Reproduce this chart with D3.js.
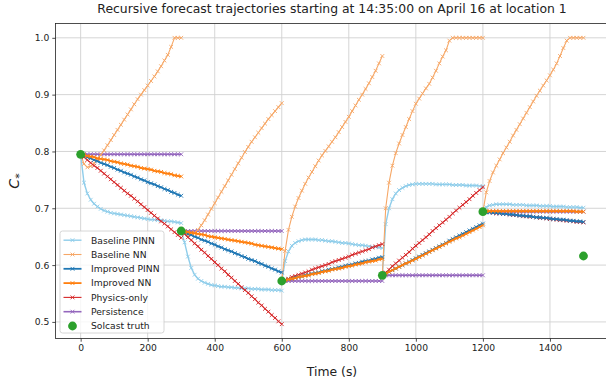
<!DOCTYPE html>
<html>
<head>
<meta charset="utf-8">
<script src="https://cdn.jsdelivr.net/npm/d3@7"></script>
<style>
  html, body { margin: 0; padding: 0; background: #fff; }
  svg { display: block; font-family: "DejaVu Sans", sans-serif; }
</style>
</head>
<body>
<div id="chart"></div>
<script>
"use strict";

// forecast start times (s) and the step offsets inside each trajectory
var segStarts = [0, 300, 600, 900, 1200];
var offsets = [0, 10, 20, 30, 40, 50, 60, 70, 80, 90, 100, 110, 120, 130, 140, 150,
  160, 170, 180, 190, 200, 210, 220, 230, 240, 250, 260, 270, 280, 290, 300];

var truthTimes = [0, 300, 600, 900, 1200, 1500];
var truthValues = [0.795, 0.660, 0.572, 0.582, 0.694, 0.616];

var baselinePinn = [
  [0.795, 0.745, 0.726, 0.715, 0.708, 0.703, 0.699, 0.696, 0.694, 0.692, 0.691, 0.690, 0.689, 0.688, 0.687, 0.686,
   0.685, 0.684, 0.683, 0.682, 0.681, 0.680, 0.680, 0.679, 0.679, 0.678, 0.677, 0.677, 0.676, 0.675, 0.674],
  [0.660, 0.640, 0.615, 0.595, 0.583, 0.576, 0.572, 0.569, 0.567, 0.565, 0.564, 0.563, 0.562, 0.562, 0.561, 0.561,
   0.560, 0.560, 0.559, 0.559, 0.559, 0.558, 0.558, 0.558, 0.557, 0.557, 0.557, 0.556, 0.556, 0.556, 0.555],
  [0.572, 0.607, 0.624, 0.634, 0.639, 0.642, 0.644, 0.645, 0.645, 0.645, 0.645, 0.644, 0.644, 0.643, 0.642, 0.642,
   0.641, 0.640, 0.639, 0.639, 0.638, 0.637, 0.636, 0.635, 0.635, 0.634, 0.633, 0.632, 0.632, 0.631, 0.630],
  [0.582, 0.672, 0.700, 0.716, 0.726, 0.732, 0.736, 0.739, 0.741, 0.742, 0.743, 0.743, 0.743, 0.743, 0.743, 0.743,
   0.742, 0.742, 0.742, 0.742, 0.742, 0.741, 0.741, 0.741, 0.741, 0.740, 0.740, 0.740, 0.740, 0.739, 0.739],
  [0.694, 0.702, 0.705, 0.706, 0.707, 0.707, 0.707, 0.707, 0.707, 0.706, 0.706, 0.706, 0.706, 0.705, 0.705, 0.705,
   0.705, 0.704, 0.704, 0.704, 0.704, 0.703, 0.703, 0.703, 0.703, 0.702, 0.702, 0.702, 0.702, 0.701, 0.701]
];

var baselineNn = [
  [0.795, 0.778, 0.772, 0.774, 0.779, 0.786, 0.794, 0.802, 0.811, 0.820, 0.829, 0.838, 0.847, 0.856, 0.865, 0.874,
   0.883, 0.892, 0.900, 0.908, 0.916, 0.924, 0.932, 0.941, 0.950, 0.960, 0.970, 0.984, 1.000, 1.000, 1.000],
  [0.660, 0.655, 0.653, 0.654, 0.657, 0.662, 0.670, 0.679, 0.689, 0.699, 0.709, 0.719, 0.729, 0.739, 0.749, 0.759,
   0.769, 0.779, 0.789, 0.799, 0.808, 0.817, 0.825, 0.833, 0.841, 0.849, 0.857, 0.864, 0.871, 0.878, 0.885],
  [0.572, 0.625, 0.662, 0.685, 0.703, 0.718, 0.731, 0.743, 0.754, 0.764, 0.774, 0.784, 0.793, 0.801, 0.809, 0.817,
   0.825, 0.834, 0.843, 0.852, 0.861, 0.871, 0.881, 0.891, 0.900, 0.910, 0.920, 0.931, 0.942, 0.955, 0.968],
  [0.582, 0.700, 0.745, 0.775, 0.797, 0.814, 0.829, 0.843, 0.857, 0.871, 0.884, 0.893, 0.902, 0.911, 0.919, 0.930,
   0.942, 0.955, 0.967, 0.978, 0.995, 1.000, 1.000, 1.000, 1.000, 1.000, 1.000, 1.000, 1.000, 1.000, 1.000],
  [0.694, 0.728, 0.748, 0.763, 0.775, 0.786, 0.797, 0.807, 0.817, 0.828, 0.838, 0.848, 0.858, 0.868, 0.878, 0.888,
   0.898, 0.907, 0.916, 0.925, 0.934, 0.944, 0.955, 0.968, 0.982, 0.995, 1.000, 1.000, 1.000, 1.000, 1.000]
];

var improvedPinn = [
  [0.795, 0.793, 0.790, 0.788, 0.785, 0.783, 0.780, 0.778, 0.776, 0.773, 0.771, 0.768, 0.766, 0.763, 0.761, 0.759,
   0.756, 0.754, 0.751, 0.749, 0.746, 0.744, 0.742, 0.739, 0.737, 0.734, 0.732, 0.729, 0.727, 0.724, 0.722],
  [0.660, 0.658, 0.655, 0.653, 0.650, 0.648, 0.645, 0.643, 0.641, 0.638, 0.636, 0.633, 0.631, 0.628, 0.626, 0.624,
   0.621, 0.619, 0.616, 0.614, 0.611, 0.609, 0.607, 0.604, 0.602, 0.599, 0.597, 0.594, 0.592, 0.589, 0.587],
  [0.572, 0.573, 0.575, 0.576, 0.578, 0.579, 0.580, 0.582, 0.583, 0.585, 0.586, 0.587, 0.589, 0.590, 0.592, 0.593,
   0.594, 0.596, 0.597, 0.599, 0.600, 0.601, 0.603, 0.604, 0.606, 0.607, 0.608, 0.610, 0.611, 0.613, 0.614],
  [0.582, 0.585, 0.588, 0.591, 0.594, 0.597, 0.600, 0.603, 0.606, 0.609, 0.612, 0.615, 0.618, 0.621, 0.624, 0.627,
   0.630, 0.633, 0.636, 0.639, 0.643, 0.646, 0.649, 0.652, 0.655, 0.658, 0.661, 0.664, 0.667, 0.670, 0.673],
  [0.694, 0.693, 0.693, 0.692, 0.692, 0.691, 0.690, 0.690, 0.689, 0.689, 0.688, 0.687, 0.687, 0.686, 0.686, 0.685,
   0.684, 0.684, 0.683, 0.683, 0.682, 0.681, 0.681, 0.680, 0.680, 0.679, 0.678, 0.678, 0.677, 0.677, 0.676]
];

var improvedNn = [
  [0.795, 0.794, 0.792, 0.791, 0.790, 0.788, 0.787, 0.786, 0.785, 0.783, 0.782, 0.781, 0.779, 0.778, 0.777, 0.775,
   0.774, 0.773, 0.771, 0.770, 0.769, 0.768, 0.766, 0.765, 0.764, 0.762, 0.761, 0.760, 0.758, 0.757, 0.756],
  [0.660, 0.659, 0.658, 0.657, 0.656, 0.655, 0.654, 0.653, 0.651, 0.650, 0.649, 0.648, 0.647, 0.646, 0.645, 0.644,
   0.643, 0.642, 0.641, 0.640, 0.639, 0.638, 0.636, 0.635, 0.634, 0.633, 0.632, 0.631, 0.630, 0.629, 0.628],
  [0.572, 0.573, 0.575, 0.576, 0.577, 0.579, 0.580, 0.581, 0.582, 0.584, 0.585, 0.586, 0.588, 0.589, 0.590, 0.592,
   0.593, 0.594, 0.595, 0.597, 0.598, 0.599, 0.601, 0.602, 0.603, 0.605, 0.606, 0.607, 0.608, 0.610, 0.611],
  [0.582, 0.585, 0.588, 0.591, 0.594, 0.597, 0.600, 0.603, 0.605, 0.608, 0.611, 0.614, 0.617, 0.620, 0.623, 0.626,
   0.629, 0.632, 0.635, 0.638, 0.641, 0.644, 0.647, 0.649, 0.652, 0.655, 0.658, 0.661, 0.664, 0.667, 0.670],
  [0.694, 0.695, 0.695, 0.695, 0.695, 0.695, 0.695, 0.695, 0.695, 0.695, 0.695, 0.695, 0.695, 0.695, 0.695, 0.695,
   0.695, 0.695, 0.695, 0.695, 0.695, 0.695, 0.695, 0.695, 0.695, 0.695, 0.695, 0.695, 0.694, 0.694, 0.694]
];

var physicsOnly = [
  [0.795, 0.790, 0.785, 0.780, 0.775, 0.771, 0.766, 0.761, 0.756, 0.751, 0.746, 0.741, 0.736, 0.731, 0.726, 0.722,
   0.717, 0.712, 0.707, 0.702, 0.697, 0.692, 0.687, 0.682, 0.677, 0.673, 0.668, 0.663, 0.658, 0.653, 0.648],
  [0.660, 0.655, 0.649, 0.644, 0.638, 0.633, 0.627, 0.622, 0.616, 0.611, 0.605, 0.600, 0.594, 0.589, 0.583, 0.578,
   0.572, 0.567, 0.561, 0.556, 0.551, 0.545, 0.540, 0.534, 0.529, 0.523, 0.518, 0.512, 0.507, 0.501, 0.496],
  [0.572, 0.574, 0.576, 0.579, 0.581, 0.583, 0.585, 0.587, 0.589, 0.592, 0.594, 0.596, 0.598, 0.600, 0.602, 0.605,
   0.607, 0.609, 0.611, 0.613, 0.615, 0.618, 0.620, 0.622, 0.624, 0.626, 0.628, 0.631, 0.633, 0.635, 0.637],
  [0.582, 0.587, 0.592, 0.598, 0.603, 0.608, 0.613, 0.618, 0.623, 0.629, 0.634, 0.639, 0.644, 0.649, 0.654, 0.660,
   0.665, 0.670, 0.675, 0.680, 0.685, 0.691, 0.696, 0.701, 0.706, 0.711, 0.716, 0.722, 0.727, 0.732, 0.737],
  [0.694, 0.693, 0.693, 0.692, 0.691, 0.691, 0.690, 0.690, 0.689, 0.688, 0.688, 0.687, 0.686, 0.686, 0.685, 0.685,
   0.684, 0.683, 0.683, 0.682, 0.681, 0.681, 0.680, 0.679, 0.679, 0.678, 0.678, 0.677, 0.676, 0.676, 0.675]
];

var persistence = [
  [0.795, 0.795, 0.795, 0.795, 0.795, 0.795, 0.795, 0.795, 0.795, 0.795, 0.795, 0.795, 0.795, 0.795, 0.795, 0.795,
   0.795, 0.795, 0.795, 0.795, 0.795, 0.795, 0.795, 0.795, 0.795, 0.795, 0.795, 0.795, 0.795, 0.795, 0.795],
  [0.660, 0.660, 0.660, 0.660, 0.660, 0.660, 0.660, 0.660, 0.660, 0.660, 0.660, 0.660, 0.660, 0.660, 0.660, 0.660,
   0.660, 0.660, 0.660, 0.660, 0.660, 0.660, 0.660, 0.660, 0.660, 0.660, 0.660, 0.660, 0.660, 0.660, 0.660],
  [0.572, 0.572, 0.572, 0.572, 0.572, 0.572, 0.572, 0.572, 0.572, 0.572, 0.572, 0.572, 0.572, 0.572, 0.572, 0.572,
   0.572, 0.572, 0.572, 0.572, 0.572, 0.572, 0.572, 0.572, 0.572, 0.572, 0.572, 0.572, 0.572, 0.572, 0.572],
  [0.582, 0.582, 0.582, 0.582, 0.582, 0.582, 0.582, 0.582, 0.582, 0.582, 0.582, 0.582, 0.582, 0.582, 0.582, 0.582,
   0.582, 0.582, 0.582, 0.582, 0.582, 0.582, 0.582, 0.582, 0.582, 0.582, 0.582, 0.582, 0.582, 0.582, 0.582],
  [0.694, 0.694, 0.694, 0.694, 0.694, 0.694, 0.694, 0.694, 0.694, 0.694, 0.694, 0.694, 0.694, 0.694, 0.694, 0.694,
   0.694, 0.694, 0.694, 0.694, 0.694, 0.694, 0.694, 0.694, 0.694, 0.694, 0.694, 0.694, 0.694, 0.694, 0.694]
];

var xTicks = [0, 200, 400, 600, 800, 1000, 1200, 1400];
var yTicks = [0.5, 0.6, 0.7, 0.8, 0.9, 1.0];

// legend order; "z" is paint order (persistence sits under the others)
var seriesList = [
  { name: "Baseline PINN", values: baselinePinn, color: "#8fcdea", width: 1.4, z: 1 },
  { name: "Baseline NN", values: baselineNn, color: "#f6a766", width: 1.1, z: 2 },
  { name: "Improved PINN", values: improvedPinn, color: "#1f77b4", width: 1.8, z: 3 },
  { name: "Improved NN", values: improvedNn, color: "#ff7f0e", width: 1.8, z: 4 },
  { name: "Physics-only", values: physicsOnly, color: "#d62728", width: 1.1, z: 2.5 },
  { name: "Persistence", values: persistence, color: "#9467bd", width: 1.6, z: 0 }
];

var W = 606, H = 383;
var margin = { left: 55.5, top: 23.5, right: 608.6, bottom: 338.5 };
var smallFont = "9.2px";

var svg = d3.select("#chart").append("svg")
  .attr("width", W)
  .attr("height", H);

var x = d3.scaleLinear().domain([-75, 1575]).range([margin.left, margin.right]);
var y = d3.scaleLinear().domain([0.4708, 1.0252]).range([margin.bottom, margin.top]);

// grid
var grid = svg.append("g").attr("class", "grid");
grid.selectAll("line.vx").data(xTicks).enter().append("line")
  .attr("x1", function (d) { return x(d); }).attr("x2", function (d) { return x(d); })
  .attr("y1", margin.top).attr("y2", margin.bottom)
  .attr("stroke", "#d0d0d0").attr("stroke-width", 0.9);
grid.selectAll("line.hy").data(yTicks).enter().append("line")
  .attr("y1", function (d) { return y(d); }).attr("y2", function (d) { return y(d); })
  .attr("x1", margin.left).attr("x2", margin.right)
  .attr("stroke", "#d0d0d0").attr("stroke-width", 0.9);

// lines
var line = d3.line()
  .x(function (d) { return x(d.t); })
  .y(function (d) { return y(d.v); });

function xMark(h) {
  return "M" + (-h) + "," + (-h) + "L" + h + "," + h + "M" + (-h) + "," + h + "L" + h + "," + (-h);
}

var plot = svg.append("g").attr("class", "plot");
var drawOrder = seriesList.slice().sort(function (a, b) { return a.z - b.z; });

drawOrder.forEach(function (s) {
  var g = plot.append("g");
  s.values.forEach(function (segVals, k) {
    var pts = segVals.map(function (v, i) { return { t: segStarts[k] + offsets[i], v: v }; });
    g.append("path")
      .datum(pts)
      .attr("d", line)
      .attr("fill", "none")
      .attr("stroke", s.color)
      .attr("stroke-width", s.width)
      .attr("stroke-linejoin", "round");
    g.selectAll(null).data(pts).enter().append("path")
      .attr("transform", function (d) { return "translate(" + x(d.t) + "," + y(d.v) + ")"; })
      .attr("d", xMark(1.9))
      .attr("stroke", s.color)
      .attr("stroke-width", 0.9)
      .attr("fill", "none");
  });
});

// truth dots
plot.selectAll("circle.truth").data(truthTimes).enter().append("circle")
  .attr("cx", function (d) { return x(d); })
  .attr("cy", function (d, i) { return y(truthValues[i]); })
  .attr("r", 4.4)
  .attr("fill", "#2ca02c");

// axes
var xAxis = d3.axisBottom(x).tickValues(xTicks).tickSize(3.2).tickPadding(3).tickFormat(d3.format("d"));
var yAxis = d3.axisLeft(y).tickValues(yTicks).tickSize(3.2).tickPadding(3).tickFormat(d3.format(".1f"));

var gx = svg.append("g").attr("transform", "translate(0," + margin.bottom + ")").call(xAxis);
var gy = svg.append("g").attr("transform", "translate(" + margin.left + ",0)").call(yAxis);
[gx, gy].forEach(function (g) {
  g.select(".domain").remove();
  g.selectAll(".tick line").attr("stroke", "#222").attr("stroke-width", 0.8);
  g.selectAll(".tick text").attr("fill", "#222").style("font-size", smallFont)
    .style("font-family", "DejaVu Sans, sans-serif");
});

// spines
svg.append("rect")
  .attr("x", margin.left).attr("y", margin.top)
  .attr("width", margin.right - margin.left).attr("height", margin.bottom - margin.top)
  .attr("fill", "none").attr("stroke", "#222").attr("stroke-width", 0.8);

// title and labels
svg.append("text")
  .attr("x", 332).attr("y", 13)
  .attr("text-anchor", "middle")
  .style("font-size", "12.4px")
  .attr("fill", "#222")
  .text("Recursive forecast trajectories starting at 14:35:00 on April 16 at location 1");

svg.append("text")
  .attr("x", 332).attr("y", 376)
  .attr("text-anchor", "middle")
  .style("font-size", "12.4px")
  .attr("fill", "#222")
  .text("Time (s)");

var ylab = svg.append("text")
  .attr("transform", "translate(19," + 181 + ") rotate(-90)")
  .attr("text-anchor", "middle")
  .style("font-size", "14px")
  .attr("fill", "#222");
ylab.append("tspan").style("font-style", "italic").text("C");
ylab.append("tspan").attr("dy", 3.5).style("font-size", "11px").text("*");

// legend
var legend = svg.append("g").attr("transform", "translate(60,231)");
legend.append("rect")
  .attr("width", 104).attr("height", 102)
  .attr("rx", 2.5)
  .attr("fill", "#fff").attr("fill-opacity", 0.8)
  .attr("stroke", "#cccccc").attr("stroke-width", 0.8);

seriesList.forEach(function (s, i) {
  var ry = 9.2 + i * 14.3;
  legend.append("line")
    .attr("x1", 3.5).attr("x2", 21.5).attr("y1", ry).attr("y2", ry)
    .attr("stroke", s.color).attr("stroke-width", s.width);
  legend.append("path")
    .attr("transform", "translate(12.5," + ry + ")")
    .attr("d", xMark(1.9))
    .attr("stroke", s.color).attr("stroke-width", 0.9).attr("fill", "none");
  legend.append("text")
    .attr("x", 31).attr("y", ry + 3.3)
    .style("font-size", smallFont)
    .attr("fill", "#222")
    .text(s.name);
});
var tr = 9.2 + 6 * 14.3;
legend.append("circle").attr("cx", 12.5).attr("cy", tr).attr("r", 4.4).attr("fill", "#2ca02c");
legend.append("text")
  .attr("x", 31).attr("y", tr + 3.3)
  .style("font-size", smallFont)
  .attr("fill", "#222")
  .text("Solcast truth");
</script>
</body>
</html>
